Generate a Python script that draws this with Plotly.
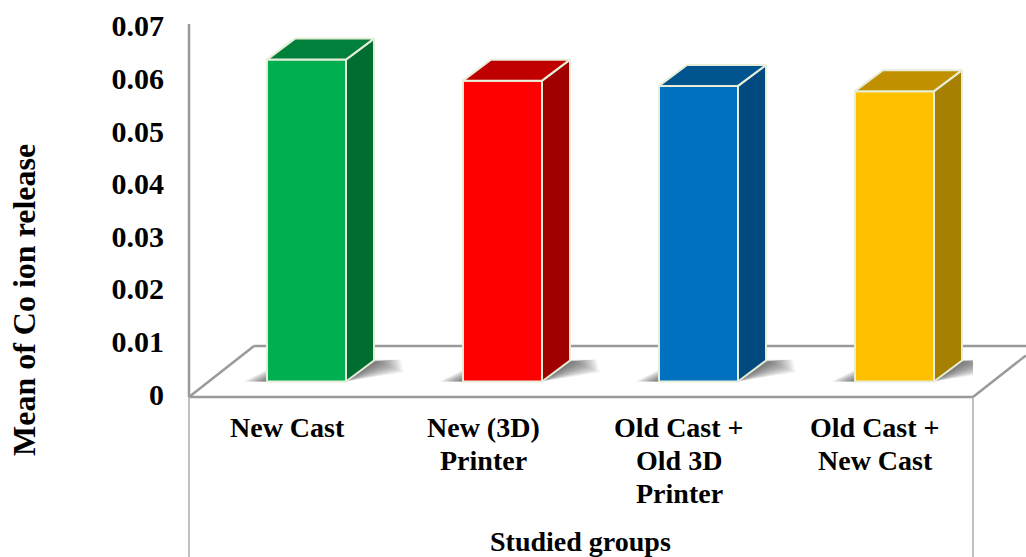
import plotly.graph_objects as go

categories = [["New Cast"], ["New (3D)", "Printer"], ["Old Cast +", "Old 3D", "Printer"], ["Old Cast +", "New Cast"]]
values = [0.0612, 0.0572, 0.0562, 0.0552]
front_colors = ["#00B050", "#FF0000", "#0070C0", "#FFC000"]
top_colors = ["#00803A", "#C00000", "#00558F", "#C09000"]
side_colors = ["#006E30", "#A00000", "#004A80", "#A68000"]
y_ticks = [0, 0.01, 0.02, 0.03, 0.04, 0.05, 0.06, 0.07]
y_labels = ["0", "0.01", "0.02", "0.03", "0.04", "0.05", "0.06", "0.07"]

W, H = 1026, 557
L, R, AXIS_T, B = 189, 973, 24, 397
T = 2
FONT = "Liberation Serif"
PX_PER_CAT = (R - L) / 4
PX_PER_VAL = 5260.0
bar_lift = 15.5 / PX_PER_VAL
bar_shift = 19.5 / PX_PER_CAT
bar_width = 79 / PX_PER_CAT
dx = 28 / PX_PER_CAT
dy = 21 / PX_PER_VAL
EDGE = "#E6EDD8"


def py(y):
    return (B - y) / (B - T)


def xp(x):
    return (x - L) / (R - L)


positions = list(range(len(categories)))
fig = go.Figure()
shapes = []
GRAY = "#9A9A9A"


def seg(x0, y0, x1, y1, color=GRAY, width=2.5, layer="below"):
    shapes.append(dict(type="line", xref="paper", yref="paper", x0=xp(x0), x1=xp(x1),
                       y0=py(y0), y1=py(y1), line=dict(color=color, width=width), layer=layer))


seg(254, 346, 1026, 346)
seg(L, B, 254, 346)
seg(R, B, 1026, B - 53 * 51 / 65)
seg(L, AXIS_T, L, B)
seg(L, B, R, B)
seg(L, B, L, H, color="#ABABAB", width=1.5)
seg(R, B, R, H, color="#ABABAB", width=1.5)

# soft contact shadows, built as layered translucent polygons
for p in positions:
    cx = p + bar_shift
    x0 = cx - bar_width / 2
    x1 = cx + bar_width / 2
    for a in range(30, 0, -1):
        ux = a / PX_PER_CAT
        y0 = bar_lift
        y1 = bar_lift + dy
        pts = [(x0 - ux * 0.8, y0), (x1, y0),
               (x1 + dx + ux, y1 - (0.4 * a) / PX_PER_VAL),
               (x1 + dx + ux * 0.9, y1 + 1 / PX_PER_VAL),
               (x0, y0 + (0.4 * a) / PX_PER_VAL)]
        path = "M " + " L ".join(f"{a1:.4f} {b1:.5f}" for a1, b1 in pts) + " Z"
        shapes.append(dict(type="path", xref="x", yref="y", path=path, layer="below",
                           fillcolor="rgba(50,50,50,0.028)", line=dict(width=0)))

fig.add_trace(go.Bar(
    x=[p + bar_shift for p in positions], y=values,
    base=bar_lift, width=bar_width,
    marker=dict(color=front_colors, line=dict(color=EDGE, width=2)),
    showlegend=False, hoverinfo="skip",
))

for p, v, tc, sc in zip(positions, values, top_colors, side_colors):
    cx = p + bar_shift
    x0 = cx - bar_width / 2
    x1 = cx + bar_width / 2
    ytop = v + bar_lift
    fig.add_trace(go.Scatter(
        x=[x1, x1 + dx, x1 + dx, x1, x1], y=[bar_lift, bar_lift + dy, ytop + dy, ytop, bar_lift],
        fill="toself", fillcolor=sc, mode="lines", line=dict(color=EDGE, width=2),
        showlegend=False, hoverinfo="skip"))
    fig.add_trace(go.Scatter(
        x=[x0, x0 + dx, x1 + dx, x1, x0], y=[ytop, ytop + dy, ytop + dy, ytop, ytop],
        fill="toself", fillcolor=tc, mode="lines", line=dict(color=EDGE, width=2),
        showlegend=False, hoverinfo="skip"))

tick_font = dict(family=FONT, size=30, color="black")
cat_font = dict(family=FONT, size=28, color="black")
annotations = [
    dict(text="<b>Mean of Co ion release</b>", xref="paper", yref="paper", x=xp(24), y=py(300),
         textangle=-90, showarrow=False, font=dict(family=FONT, size=32, color="black"),
         xanchor="center", yanchor="middle"),
    dict(text="<b>Studied groups</b>", xref="paper", yref="paper", x=xp(580), y=py(541),
         showarrow=False, font=cat_font, xanchor="center", yanchor="middle"),
]
for p, lines in zip(positions, categories):
    for i, line in enumerate(lines):
        annotations.append(dict(text=f"<b>{line}</b>", xref="x", yref="paper", x=p, y=py(427 + 33 * i),
                                showarrow=False, font=cat_font, xanchor="center", yanchor="middle"))

fig.update_layout(
    width=W, height=H,
    margin=dict(l=L, r=W - R, t=T, b=H - B, pad=0),
    paper_bgcolor="white", plot_bgcolor="rgba(0,0,0,0)",
    font=tick_font, showlegend=False, shapes=shapes, annotations=annotations,
    xaxis=dict(range=[-0.5, 3.5], showticklabels=False,
               showgrid=False, zeroline=False, showline=False, ticks=""),
    yaxis=dict(range=[0, (B - T) / PX_PER_VAL], tickmode="array", tickvals=y_ticks,
               ticktext=["<b>%s</b>" % s for s in y_labels], showgrid=False, zeroline=False,
               showline=False, ticks="", ticklabelstandoff=24, ticklabelshift=-3, tickfont=tick_font),
)
fig.write_html("out.html", config={"displayModeBar": False},
               post_script="document.body.style.margin='0';document.body.style.overflow='hidden';")
